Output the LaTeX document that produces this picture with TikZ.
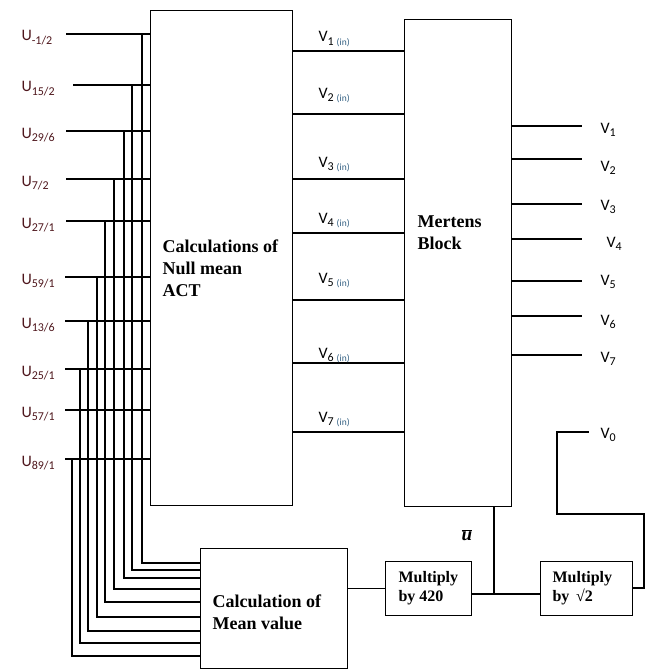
\documentclass[tikz,border=0pt]{standalone}
\usepackage{fontspec}
\setmainfont{Liberation Serif}
\newfontfamily\calibri{Carlito}
\usepackage{tikz}
\usetikzlibrary{positioning, calc}
\definecolor{ubrown}{RGB}{78,22,28}
\definecolor{inblue}{RGB}{50,95,130}
\newcommand{\lsub}[1]{\raisebox{-0.22em}{\fontsize{12}{12}\selectfont #1}}

\begin{document}
\begin{tikzpicture}[x=1pt, y=-1pt, line width=1.1pt,
    block/.style={draw, line width=1.1pt, inner sep=0pt, anchor=north west},
    bigtext/.style={font=\bfseries\fontsize{18}{22}\selectfont, align=left, inner sep=0pt, anchor=north west},
    smalltext/.style={font=\bfseries\fontsize{16}{19}\selectfont, align=left, inner sep=0pt, anchor=north west},
    ulabel/.style={font=\calibri\fontsize{16}{16}\selectfont, text=ubrown, inner sep=0pt, anchor=base west},
    vlabel/.style={font=\calibri\fontsize{16}{16}\selectfont, inner sep=0pt, anchor=base west}]
    \useasboundingbox (0,0) rectangle (652,669);

    % Blocks
    \node[block, minimum width=142pt, minimum height=495pt] (acg) at (150,10) {};
    \node[block, minimum width=107pt, minimum height=487pt] (mert) at (404,19) {};
    \node[block, minimum width=147pt, minimum height=120pt] (mean) at (200,548) {};
    \node[block, minimum width=86pt, minimum height=54pt] (mul420) at (385,561) {};
    \node[block, minimum width=92pt, minimum height=54pt] (mulsq) at (540,561) {};

    % Block texts
    \node[bigtext] (acgtxt) at (162,239.5) {Calculations of\\Null mean\\ACT};
    \node[bigtext] (merttxt) at (417,215.5) {Mertens\\Block};
    \node[bigtext] (meantxt) at (212,594.5) {Calculation of\\Mean value};
    \node[smalltext] (mul420txt) at (398,571) {Multiply\\by 420};
    \node[smalltext] (mulsqtxt) at (552,571) {Multiply\\by \,√2};

    % Inputs
    \foreach \sub/\y/\xs [count=\i] in {{-1/2}/34/66, {15/2}/85/73, {29/6}/131/66,
        {7/2}/179/66, {27/1}/221/66, {59/1}/277/65, {13/6}/321/65,
        {25/1}/369/65, {57/1}/410/65, {89/1}/459/65}
    {
        \node[ulabel] (u\i) at (21,\y+7) {U\lsub{\sub}};
        \coordinate (in\i) at (\xs,\y);
        \draw (in\i) -- (in\i -| acg.west);
    }

    % Taps to the mean value block
    \foreach \i/\xv/\y/\ym in {1/142/34/563, 2/132/85/570, 3/124/131/578,
        4/114/179/589, 5/105/221/602, 6/97/277/617, 7/88/321/631,
        8/80/369/643, 10/72/459/656}
    {
        \coordinate (tap\i) at (\xv,\y);
        \coordinate (mi\i) at (mean.west |- 0,\ym);
        \draw (tap\i) |- (mi\i);
    }

    % Null mean outputs into Mertens block
    \foreach \y/\lb [count=\i] in {51/42, 114/98, 179/167, 233/223,
        300/283, 363/358, 432/422}
    {
        \coordinate (vi\i) at (acg.east |- 0,\y);
        \draw (vi\i) -- (vi\i -| mert.west);
        \node[vlabel] (vin\i) at (318,\lb)
            {V\lsub{\i\hspace{3pt}{\fontsize{9.5}{9.5}\selectfont\color{inblue}(in)}}};
    }

    % Mertens outputs
    \foreach \y/\lx/\lb [count=\i] in {126/600/133, 159/600/171, 204/600/210,
        239/606/247, 281/600/285, 316/600/325, 355/600/362}
    {
        \coordinate (o\i) at (582,\y);
        \draw (mert.east |- o\i) -- (o\i);
        \node[vlabel] (v\i) at (\lx,\lb) {V\lsub{\i}};
    }

    % Mean value path
    \coordinate (ubar) at (494,594);
    \draw (mean.east |- mul420.west) -- (mul420.west);
    \draw (mert.south -| ubar) -- (ubar);
    \draw (mul420.east |- ubar) -- (mulsq.west |- ubar);
    \node[font=\fontsize{19}{19}\selectfont] (ulab) at (467,535) {$\overline{\textbf{\textit{u}}}$};

    % V0 output
    \coordinate (ret) at (644,514);
    \coordinate (v0start) at (557,432);
    \coordinate (v0end) at (589,432);
    \draw (mulsq.east |- 0,588) -| (ret) -| (v0start) -- (v0end);
    \node[vlabel] (v0) at (600,438) {V\lsub{0}};
\end{tikzpicture}
\end{document}
